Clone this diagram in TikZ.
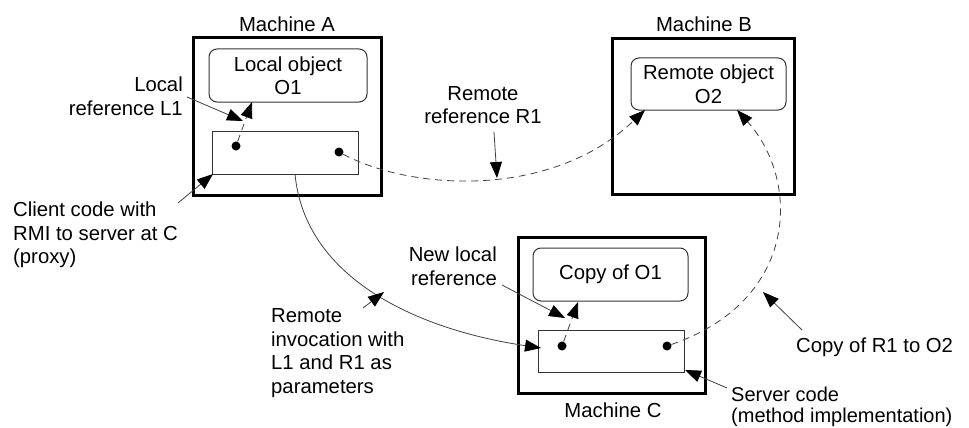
\documentclass[tikz,border=0pt]{standalone}
\usepackage{fontspec}
\setmainfont{Liberation Sans}
\usetikzlibrary{arrows.meta}
\begin{document}
\begin{tikzpicture}[x=1pt,y=-1pt,
  every node/.style={font=\fontsize{20.3}{23.5}\selectfont, inner sep=0pt},
  machine/.style={draw, line width=3pt, minimum width=#1},
  objbox/.style={draw=black!80, line width=1pt, rounded corners=8pt, align=center},
  codebox/.style={draw=black!80, line width=1pt},
  dot/.style={circle, fill=black, minimum size=9pt},
  conn/.style={draw=black!75, line width=0.8pt, -{Triangle[length=16pt,width=12pt,color=black]}},
  dconn/.style={conn, dash pattern=on 7pt off 5pt},
  lbl/.style={align=left, anchor=west},
  lblr/.style={align=right, anchor=east}]
\useasboundingbox (0,0) rectangle (969,428);
% machines
\node[machine=188pt, minimum height=157pt] (MA) at (287,116.5) {};
\node[machine=182pt, minimum height=155pt] (MB) at (703,116.5) {};
\node[machine=187pt, minimum height=156pt] (MC) at (611.5,315) {};
\node (tA) at (287,24) {Machine A};
\node (tB) at (704,24) {Machine B};
\node (tC) at (613,410) {Machine C};
% objects
\node[objbox, minimum width=158pt, minimum height=53pt] (O1) at (288,75.5) {Local object\\O1};
\node[objbox, minimum width=155pt, minimum height=52pt] (O2) at (708.5,84) {Remote object\\O2};
\node[objbox, minimum width=155pt, minimum height=53pt] (O1c) at (610.5,274.5) {Copy of O1};
% code boxes
\node[codebox, minimum width=146pt, minimum height=43pt] (CA) at (285,152.5) {};
\node[codebox, minimum width=146pt, minimum height=42pt] (CC) at (611,351) {};
% dots
\node[dot] (dA1) at (236,146) {};
\node[dot] (dA2) at (339,152) {};
\node[dot] (dC1) at (562,346) {};
\node[dot] (dC2) at (667,346) {};
% labels
\node[lblr] (lL1) at (183,96) {Local\\reference L1};
\node[lbl] (lClient) at (13,235) {Client code with\\RMI to server at C\\(proxy)};
\node[align=center] (lR1) at (483,105) {Remote\\reference R1};
\node[lblr] (lNew) at (497,266) {New local\\reference};
\node[lbl] (lInv) at (271,353) {Remote\\invocation with\\L1 and R1 as\\parameters};
\node[lbl] (lCopy) at (796,347) {Copy of R1 to O2};
\node[lbl, font=\fontsize{20}{21}\selectfont] (lServer) at (731,407) {Server code\\(method implementation)};
% coordinates
\coordinate (L1s) at (187,97);
\coordinate (L1t) at (243,121);
\coordinate (O1b) at (252,102);
\coordinate (Cls) at (178,203);
\coordinate (Clt) at (213,174);
\coordinate (R1s) at (494,132);
\coordinate (R1t) at (497,178);
\coordinate (O2b1) at (645,110);
\coordinate (O2b2) at (737,110);
\coordinate (CAb) at (295,174);
\coordinate (CCl) at (541,348);
\coordinate (Invs) at (363,308);
\coordinate (Invt) at (384,292);
\coordinate (Nls) at (502,285);
\coordinate (Nlt) at (565,318);
\coordinate (O1cb) at (578,302);
\coordinate (Cps) at (802,330);
\coordinate (Cpt) at (763,292);
\coordinate (Svs) at (727,388);
\coordinate (Svt) at (685,370);
% connectors
\draw[conn] (L1s) -- (L1t);
\draw[dconn] (dA1) -- (O1b);
\draw[conn] (Cls) -- (Clt);
\draw[dconn] (dA2) .. controls (410,190) and (550,200) .. (O2b1);
\draw[conn] (R1s) -- (R1t);
\draw[conn] (CAb) .. controls (305,280) and (420,330) .. (CCl);
\draw[conn] (Invs) -- (Invt);
\draw[conn] (Nls) -- (Nlt);
\draw[dconn] (dC1) -- (O1cb);
\draw[dconn] (dC2) .. controls (800,300) and (800,180) .. (O2b2);
\draw[conn] (Cps) -- (Cpt);
\draw[conn] (Svs) -- (Svt);
\end{tikzpicture}
\end{document}
